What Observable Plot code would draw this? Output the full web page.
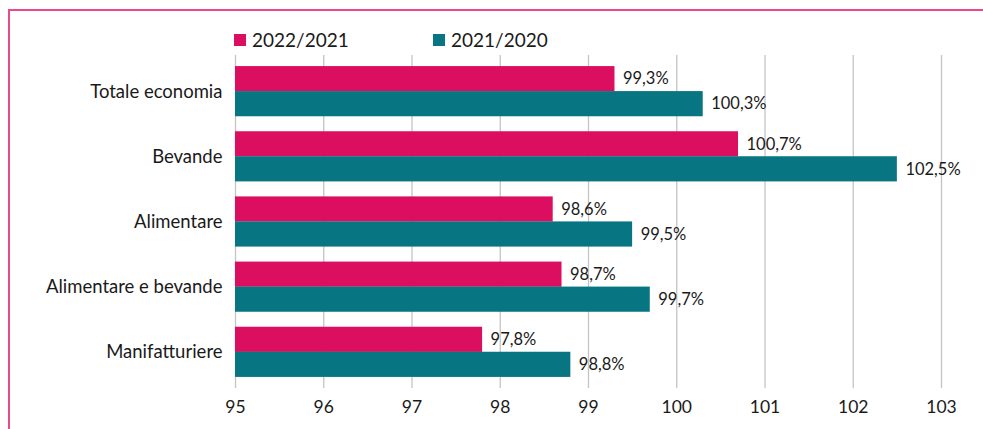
<!DOCTYPE html>
<html>
<head>
<meta charset="utf-8">
<script src="https://cdn.jsdelivr.net/npm/d3@7"></script>
<script src="https://cdn.jsdelivr.net/npm/@observablehq/plot@0.6"></script>
<style>
  html, body { margin: 0; padding: 0; background: #fff; }
  body { width: 983px; height: 429px; position: relative; overflow: hidden; font-family: Lato, "Open Sans", sans-serif; }
  #frame { position: absolute; left: 8px; top: 9px; width: 990px; height: 440px; border-top: 2px solid #ea4a8c; border-left: 2px solid #ea4a8c; box-sizing: border-box; }
  #legend { position: absolute; top: 28px; left: 0; height: 22px; font-size: 19px; color: #1a1a1a; }
  .item { position: absolute; top: 0; white-space: nowrap; display: flex; align-items: center; }
  .sw { width: 12px; height: 12px; margin-right: 6px; }
  #chart { position: absolute; left: 0; top: 0; }
</style>
</head>
<body>
<div id="frame"></div>
<div id="legend"></div>
<div id="chart"></div>
<script>
const categories = ["Totale economia", "Bevande", "Alimentare", "Alimentare e bevande", "Manifatturiere"];
const series = ["2022/2021", "2021/2020"];
const values2022 = [99.3, 100.7, 98.6, 98.7, 97.8];
const values2021 = [100.3, 102.5, 99.5, 99.7, 98.8];
const xTicks = [95, 96, 97, 98, 99, 100, 101, 102, 103];
const colors = ["#dc0e5f", "#087682"];

const data = [];
categories.forEach((c, i) => {
  data.push({category: c, series: series[0], value: values2022[i]});
  data.push({category: c, series: series[1], value: values2021[i]});
});
const fmt = v => v.toFixed(1).replace(".", ",") + "%";
const half = 25;

const legend = document.getElementById("legend");
const legendX = [234, 433];
series.forEach((s, i) => {
  const it = document.createElement("div");
  it.className = "item";
  it.style.left = legendX[i] + "px";
  it.innerHTML = `<span class="sw" style="background:${colors[i]}"></span><span>${s}</span>`;
  legend.appendChild(it);
});

const d0 = data.filter(d => d.series === series[0]);
const d1 = data.filter(d => d.series === series[1]);

const chart = Plot.plot({
  width: 983,
  height: 429,
  marginTop: 55,
  marginBottom: 41,
  marginLeft: 235,
  marginRight: 42,
  style: {fontFamily: "Lato, sans-serif", background: "transparent", color: "#1a1a1a"},
  x: {domain: [95, 103], ticks: xTicks},
  y: {domain: categories, paddingInner: 0.23, paddingOuter: 0.17, round: false},
  marks: [
    Plot.ruleX(xTicks, {stroke: "#c4c4c4", strokeWidth: 1.3}),
    Plot.barX(d0, {x1: 95, x2: "value", y: "category", fill: colors[0], insetBottom: half}),
    Plot.barX(d1, {x1: 95, x2: "value", y: "category", fill: colors[1], insetTop: half}),
    Plot.text(d0, {x: "value", y: "category", text: d => fmt(d.value), dx: 8, dy: -half / 2, textAnchor: "start", fontSize: 16.5, fill: "#1a1a1a"}),
    Plot.text(d1, {x: "value", y: "category", text: d => fmt(d.value), dx: 8, dy: half / 2, textAnchor: "start", fontSize: 16.5, fill: "#1a1a1a"}),
    Plot.axisX({ticks: xTicks, tickSize: 0, tickPadding: 12, fontSize: 17.5, tickFormat: d => String(d), label: null}),
    Plot.axisY({tickSize: 0, tickPadding: 13, fontSize: 18.5, label: null})
  ]
});
document.getElementById("chart").appendChild(chart);
</script>
</body>
</html>
